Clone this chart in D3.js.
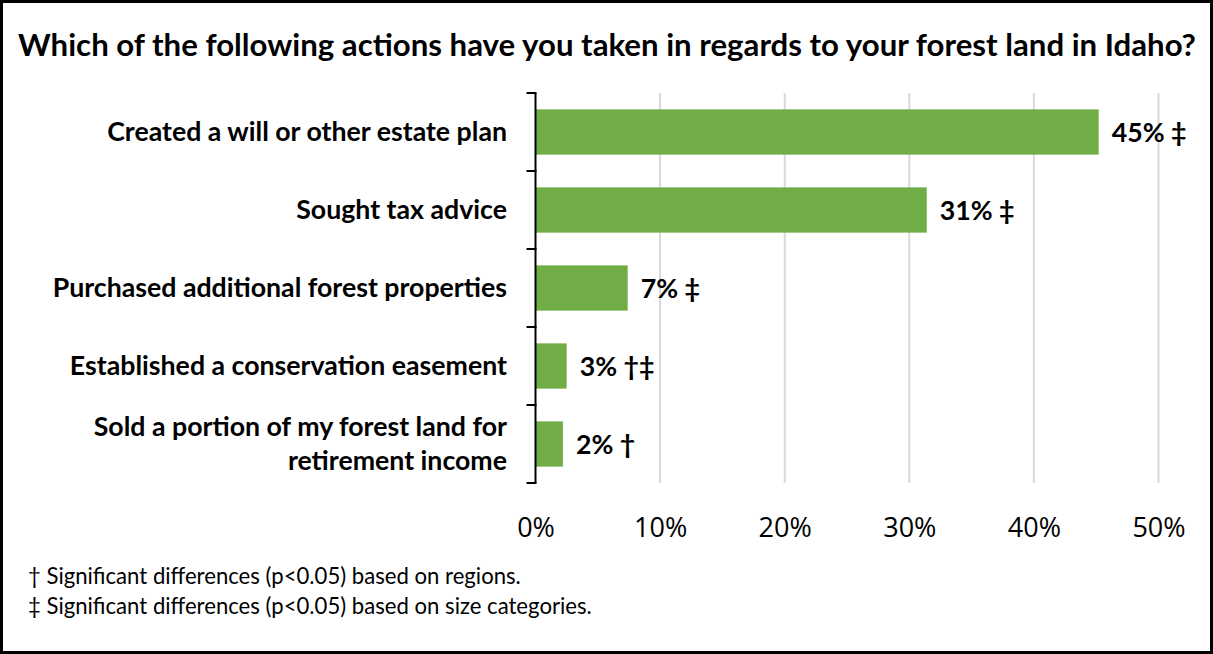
<!DOCTYPE html>
<html>
<head>
<meta charset="utf-8">
<script src="https://cdn.jsdelivr.net/npm/d3@7"></script>
<style>
  html, body { margin: 0; padding: 0; background: #fff; }
  svg { display: block; }
</style>
</head>
<body>
<svg id="chart" width="1213" height="654"></svg>
<script>
// Survey responses: share of owners who have taken each action
const categories = [
  "Created a will or other estate plan",
  "Sought tax advice",
  "Purchased additional forest properties",
  "Established a conservation easement",
  "Sold a portion of my forest land for\nretirement income"
];
const percentValues = [45.2, 31.4, 7.4, 2.5, 2.2];
const significanceMarks = ["‡", "‡", "‡", "†‡", "†"];
const tickValues = [0, 10, 20, 30, 40, 50];
const titleText = "Which of the following actions have you taken in regards to your forest land in Idaho?";
const footnotes = [
  "† Significant differences (p<0.05) based on regions.",
  "‡ Significant differences (p<0.05) based on size categories."
];

const W = 1213, H = 654;
const svg = d3.select("#chart");
const boldFont = "Lato, 'Open Sans', sans-serif";
const axisFont = "'Open Sans', 'Noto Sans', sans-serif";

// Outer frame
svg.append("rect")
  .attr("x", 1.5).attr("y", 1.5)
  .attr("width", W - 3).attr("height", H - 3)
  .attr("fill", "#fff").attr("stroke", "#000").attr("stroke-width", 3);

// Scale text so that it spans a given width
function fitWidth(sel, target) {
  const len = sel.node().getComputedTextLength();
  const fs = parseFloat(sel.attr("font-size"));
  sel.attr("font-size", fs * target / len);
}

// Title
const title = svg.append("text")
  .attr("x", 607).attr("y", 56)
  .attr("text-anchor", "middle")
  .attr("font-family", boldFont).attr("font-weight", 700)
  .attr("font-size", 26).attr("fill", "#000")
  .text(titleText);
fitWidth(title, 1178);

// Plot area
const plot = { left: 535.5, right: 1158.5, top: 93, bottom: 483 };

const x = d3.scaleLinear().domain([0, 50]).range([plot.left, plot.right]);
const y = d3.scaleBand()
  .domain(categories)
  .range([plot.top, plot.bottom])
  .paddingInner(0.42).paddingOuter(0.21);

// Vertical gridlines
svg.append("g")
  .selectAll("line")
  .data(tickValues.filter(t => t > 0))
  .join("line")
  .attr("x1", d => x(d)).attr("x2", d => x(d))
  .attr("y1", plot.top).attr("y2", plot.bottom)
  .attr("stroke", "#d9d9d9").attr("stroke-width", 2);

// Bars
svg.append("g")
  .selectAll("rect")
  .data(categories)
  .join("rect")
  .attr("x", x(0))
  .attr("y", d => y(d))
  .attr("width", (d, i) => x(percentValues[i]) - x(0))
  .attr("height", y.bandwidth())
  .attr("fill", "#70ad47");

// Category axis with tick marks between categories
const yAxisG = svg.append("g");
yAxisG.append("line")
  .attr("x1", plot.left).attr("x2", plot.left)
  .attr("y1", plot.top).attr("y2", plot.bottom)
  .attr("stroke", "#000").attr("stroke-width", 2);
yAxisG.selectAll("line.tick")
  .data(d3.range(categories.length + 1).map(i => plot.top + i * y.step()))
  .join("line")
  .attr("class", "tick")
  .attr("x1", plot.left - 9).attr("x2", plot.left + 1)
  .attr("y1", d => d).attr("y2", d => d)
  .attr("stroke", "#000").attr("stroke-width", 2);

// Category labels
const catLabels = svg.append("g")
  .selectAll("text")
  .data(categories)
  .join("text")
  .attr("x", 507)
  .attr("text-anchor", "end")
  .attr("font-family", boldFont).attr("font-weight", 700)
  .attr("font-size", 22).attr("fill", "#000");
catLabels.each(function (d) {
  const lines = d.split("\n");
  const cy = y(d) + y.bandwidth() / 2;
  const lh = 34;
  const t = d3.select(this);
  lines.forEach((ln, k) => {
    t.append("tspan")
      .attr("x", 507)
      .attr("y", cy + (k - (lines.length - 1) / 2) * lh)
      .attr("dy", "0.35em")
      .text(ln);
  });
});
// size labels from the longest one
const probe = svg.append("text")
  .attr("font-family", boldFont).attr("font-weight", 700)
  .attr("font-size", 22).text(categories[0]);
const catSize = 22 * 400 / probe.node().getComputedTextLength();
probe.remove();
catLabels.attr("font-size", catSize);

// Value labels
svg.append("g")
  .selectAll("text")
  .data(categories)
  .join("text")
  .attr("x", (d, i) => x(percentValues[i]) + 13)
  .attr("y", d => y(d) + y.bandwidth() / 2)
  .attr("dy", "0.36em")
  .attr("font-family", boldFont).attr("font-weight", 700)
  .attr("font-size", catSize).attr("fill", "#000")
  .text((d, i) => Math.round(percentValues[i]) + "% " + significanceMarks[i]);

// Value axis labels
const xAxis = d3.axisBottom(x)
  .tickValues(tickValues)
  .tickFormat(d => d + "%")
  .tickSize(0).tickPadding(0);
const xg = svg.append("g")
  .attr("transform", `translate(0, 537)`)
  .call(xAxis);
xg.select(".domain").remove();
xg.selectAll("text")
  .attr("dy", 0)
  .attr("y", 0)
  .attr("font-family", axisFont)
  .attr("font-size", 27)
  .attr("fill", "#000");

// Footnotes
const notes = svg.append("g")
  .selectAll("text")
  .data(footnotes)
  .join("text")
  .attr("x", 28)
  .attr("y", (d, i) => 584 + i * 30)
  .attr("font-family", boldFont)
  .attr("font-size", 20).attr("fill", "#000")
  .text(d => d);
fitWidth(d3.select(notes.nodes()[1]), 564);
notes.attr("font-size", d3.select(notes.nodes()[1]).attr("font-size"));
</script>
</body>
</html>
